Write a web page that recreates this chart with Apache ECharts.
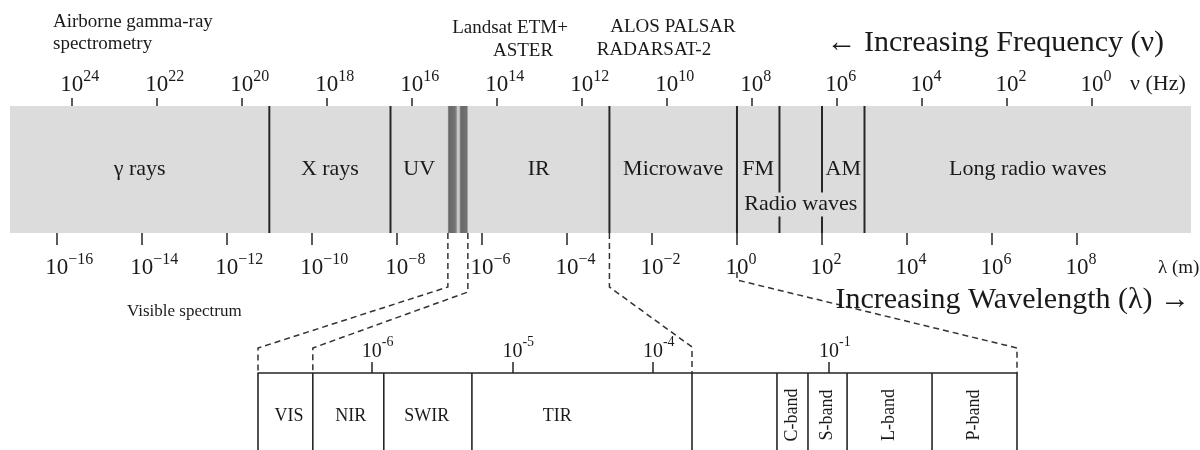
<!DOCTYPE html>
<html><head><meta charset="utf-8">
<script src="https://cdn.jsdelivr.net/npm/echarts@6/dist/echarts.min.js"></script>
<style>html,body{margin:0;padding:0;background:#fff}#c{width:1200px;height:450px}</style>
</head><body><div id="c"></div>
<script>
// ---------- data: values are log10(wavelength / m) ----------
const WAVE_TICKS = [-16, -14, -12, -10, -8, -6, -4, -2, 0, 2, 4, 6, 8];
const FREQ_TICKS = [24, 22, 20, 18, 16, 14, 12, 10, 8, 6, 4, 2, 0];
const FREQ_OFFSET = 8.35;            // log10(nu) = FREQ_OFFSET - log10(lambda), as drawn
const WAVE_EXTENT = [-17.1, 10.68];  // span of the grey band

const REGION_NAMES = ['γ rays', 'X rays', 'UV', 'IR', 'Microwave', 'FM', 'AM', 'Long radio waves'];
const REGION_FROM  = [-17.1, -11, -8.15, -6.33, -3, 0, 2, 3];
const REGION_TO    = [-11, -8.15, -6.8, -3, 0, 1, 3, 10.68];
const BOUNDARIES   = [-11, -8.15, -3, 0, 1, 2, 3];
const VISIBLE_RANGE = [-6.8, -6.33];
const RADIO_RANGE = [0, 3];

const OPT_NAMES  = ['VIS', 'NIR', 'SWIR', 'TIR'];
const OPT_EDGES  = [-6.81, -6.42, -5.915, -5.288, -3.722];
const OPT_LABELS = [-6.59, -6.15, -5.61, -4.68];
const OPT_TICKS  = [-6, -5, -4];

const MW_NAMES = ['C-band', 'S-band', 'L-band', 'P-band'];
const MW_EXTENT = [-1.729, 0];
const MW_EDGES = [-1.277, -1.112, -0.904, -0.452, 0];
const MW_TICKS = [-1];

// zoom connectors: main-band wavelength -> [lower x-axis index, lower wavelength]
const CONNECT_FROM = [-6.8, -6.33, -3, 0];
const CONNECT_TO   = [[2, -6.81], [2, -6.42], [2, -3.722], [3, 0]];

// ---------- layout / style ----------
const FONT = 'Liberation Serif';
const INK = '#1a1a1a';
const LINE = '#262626';
const CONNECT_LAYOUT = [ // [startY, bend1Y, bend2Y]
  [null, 287, 348], [null, 292, 348], [null, 287, 347], [272, 280, 348]
];

function sup(v, minus) {
  const s = v < 0 ? minus + Math.abs(v) : String(v);
  return '{g|' + s + '}{b|10}{s|' + s + '}';
}
function rich(base, small, H, h) {
  return {
    b: {fontFamily: FONT, fontSize: base, lineHeight: H, color: INK},
    s: {fontFamily: FONT, fontSize: small, lineHeight: h, verticalAlign: 'top', color: INK},
    g: {fontFamily: FONT, fontSize: small, lineHeight: h, verticalAlign: 'top', color: 'rgba(0,0,0,0)'}
  };
}
const mainRich = rich(23, 16, 32, 17);
const lowRich = rich(20, 14, 34, 15);

function vlines(xi, yi, values, width, z) {
  return {
    type: 'custom', coordinateSystem: 'cartesian2d', xAxisIndex: xi, yAxisIndex: yi, silent: true, z: z,
    data: values.map(v => [v, 0]),
    renderItem: (p, api) => {
      const a = api.coord([api.value(0), 0]), b = api.coord([api.value(0), 1]);
      return {type: 'line', shape: {x1: a[0], y1: a[1], x2: b[0], y2: b[1]},
              style: {stroke: LINE, lineWidth: width}};
    }
  };
}
function texts(xi, yi, xs, y, names, size, rot, extra) {
  return {
    type: 'custom', coordinateSystem: 'cartesian2d', xAxisIndex: xi, yAxisIndex: yi, silent: true, z: 6,
    data: xs.map(v => [v, y]),
    renderItem: (p, api) => {
      const c = api.coord([api.value(0), api.value(1)]);
      return {type: 'text', x: c[0], y: c[1], rotation: rot || 0,
        style: Object.assign({text: names[p.dataIndex], fill: INK, font: size + 'px "' + FONT + '"',
          align: 'center', verticalAlign: 'middle', textAlign: 'center', textVerticalAlign: 'middle'}, extra || {})};
    }
  };
}
const mids = e => e.slice(0, -1).map((v, i) => (v + e[i + 1]) / 2);

const chart = echarts.init(document.getElementById('c'), null, {renderer: 'canvas'});
const hiddenY = i => ({gridIndex: i, type: 'value', min: 0, max: 1, show: false});

const option = {
  animation: false,
  backgroundColor: '#fff',
  grid: [
    {left: 10, right: 9, top: 106, height: 127, show: true, backgroundColor: '#dcdcdc', borderWidth: 0, containLabel: false, outerBoundsMode: 'none'},
    {left: 258, width: 434, top: 373, height: 77, containLabel: false, outerBoundsMode: 'none'},
    {left: 692, width: 325, top: 373, height: 77, containLabel: false, outerBoundsMode: 'none'}
  ],
  xAxis: [
    {gridIndex: 0, type: 'value', position: 'bottom', min: WAVE_EXTENT[0], max: WAVE_EXTENT[1],
     axisLine: {show: false}, splitLine: {show: false},
     axisTick: {show: true, customValues: WAVE_TICKS, length: 12, lineStyle: {color: LINE, width: 1.5}},
     axisLabel: {customValues: WAVE_TICKS, margin: 19, formatter: v => sup(v, '−'), rich: mainRich, hideOverlap: false}},
    {gridIndex: 0, type: 'value', position: 'top', inverse: true,
     min: FREQ_OFFSET - WAVE_EXTENT[1], max: FREQ_OFFSET - WAVE_EXTENT[0],
     axisLine: {show: false}, splitLine: {show: false},
     axisTick: {show: true, customValues: FREQ_TICKS, length: 8, lineStyle: {color: LINE, width: 1.5}},
     axisLabel: {customValues: FREQ_TICKS, margin: 5, formatter: v => sup(v, '−'), rich: mainRich, hideOverlap: false}},
    {gridIndex: 1, type: 'value', position: 'top', min: OPT_EDGES[0], max: OPT_EDGES[OPT_EDGES.length - 1],
     axisLine: {show: true, onZero: false, lineStyle: {color: LINE, width: 1.5}}, splitLine: {show: false},
     axisTick: {show: true, customValues: OPT_TICKS, length: 11, lineStyle: {color: LINE, width: 1.5}},
     axisLabel: {customValues: OPT_TICKS, margin: 4, formatter: v => sup(v, '-'), rich: lowRich, hideOverlap: false}},
    {gridIndex: 2, type: 'value', position: 'top', min: MW_EXTENT[0], max: MW_EXTENT[1],
     axisLine: {show: true, onZero: false, lineStyle: {color: LINE, width: 1.5}}, splitLine: {show: false},
     axisTick: {show: true, customValues: MW_TICKS, length: 11, lineStyle: {color: LINE, width: 1.5}},
     axisLabel: {customValues: MW_TICKS, margin: 4, formatter: v => sup(v, '-'), rich: lowRich, hideOverlap: false}}
  ],
  yAxis: [hiddenY(0), hiddenY(1), hiddenY(2)],
  series: [
    { // visible spectrum stripe
      type: 'custom', coordinateSystem: 'cartesian2d', xAxisIndex: 0, yAxisIndex: 0, silent: true, z: 2,
      data: [[VISIBLE_RANGE[0], VISIBLE_RANGE[1]]],
      renderItem: (p, api) => {
        const a = api.coord([api.value(0), 1]), b = api.coord([api.value(1), 0]);
        return {type: 'rect', shape: {x: a[0], y: a[1], width: b[0] - a[0], height: b[1] - a[1]},
          style: {fill: new echarts.graphic.LinearGradient(0, 0, 1, 0, [
            {offset: 0, color: '#9a9a9a'}, {offset: 0.06, color: '#686868'}, {offset: 0.36, color: '#747474'},
            {offset: 0.43, color: '#959595'}, {offset: 0.47, color: '#c8c8c8'}, {offset: 0.57, color: '#c8c8c8'},
            {offset: 0.61, color: '#8c8c8c'}, {offset: 0.66, color: '#686868'}, {offset: 0.93, color: '#727272'},
            {offset: 1, color: '#a2a2a2'}])}};
      }
    },
    vlines(0, 0, BOUNDARIES, 2, 3),
    texts(0, 0, REGION_NAMES.map((n, i) => (REGION_FROM[i] + REGION_TO[i]) / 2), 0.5, REGION_NAMES, 22),
    texts(0, 0, [(RADIO_RANGE[0] + RADIO_RANGE[1]) / 2], 0.224, ['Radio waves'], 22, 0,
          {backgroundColor: '#dcdcdc', padding: [1, 1]}),
    vlines(2, 1, OPT_EDGES, 1.6, 3),
    texts(2, 1, OPT_LABELS, 0.44, OPT_NAMES, 18),
    vlines(3, 2, MW_EDGES, 1.6, 3),
    texts(3, 2, mids(MW_EDGES), 0.455, MW_NAMES, 18, Math.PI / 2)
  ]
};
chart.setOption(option);

function T(text, x, y, size, align) {
  return {type: 'text', x: x, y: y, silent: true, z: 10,
    style: {text: text, font: size + 'px "' + FONT + '"', fill: INK,
            align: align, verticalAlign: 'middle', textAlign: align, textVerticalAlign: 'middle'}};
}
const labels = [
  T('Airborne gamma-ray', 53, 22, 19, 'left'),
  T('spectrometry', 53, 44, 19, 'left'),
  T('Landsat ETM+', 510, 28, 19, 'center'),
  T('ASTER', 523, 51, 19, 'center'),
  T('ALOS PALSAR', 673, 27, 19, 'center'),
  T('RADARSAT-2', 654, 50, 19, 'center'),
  T('← Increasing Frequency (ν)', 1164, 43, 30, 'right'),
  T('ν (Hz)', 1130, 84, 22, 'left'),
  T('λ (m)', 1158, 268, 19, 'left'),
  T('Visible spectrum', 127, 312, 17, 'left'),
  T('Increasing Wavelength (λ) →', 1190, 300, 30, 'right')
];

const mainBottom = chart.convertToPixel({yAxisIndex: 0}, 0);
const lowTop = chart.convertToPixel({yAxisIndex: 1}, 1);
const connectors = CONNECT_FROM.map((v, i) => {
  const xa = chart.convertToPixel({xAxisIndex: 0}, v);
  const xb = chart.convertToPixel({xAxisIndex: CONNECT_TO[i][0]}, CONNECT_TO[i][1]);
  const L = CONNECT_LAYOUT[i];
  const y0 = L[0] == null ? mainBottom : L[0];
  return {type: 'polyline', silent: true, z: 9,
    shape: {points: [[xa, y0], [xa, L[1]], [xb, L[2]], [xb, lowTop]]},
    style: {stroke: '#333', lineWidth: 1.5, lineDash: [6, 4], fill: null}};
});
chart.setOption({graphic: labels.concat(connectors)});
</script>
</body></html>
